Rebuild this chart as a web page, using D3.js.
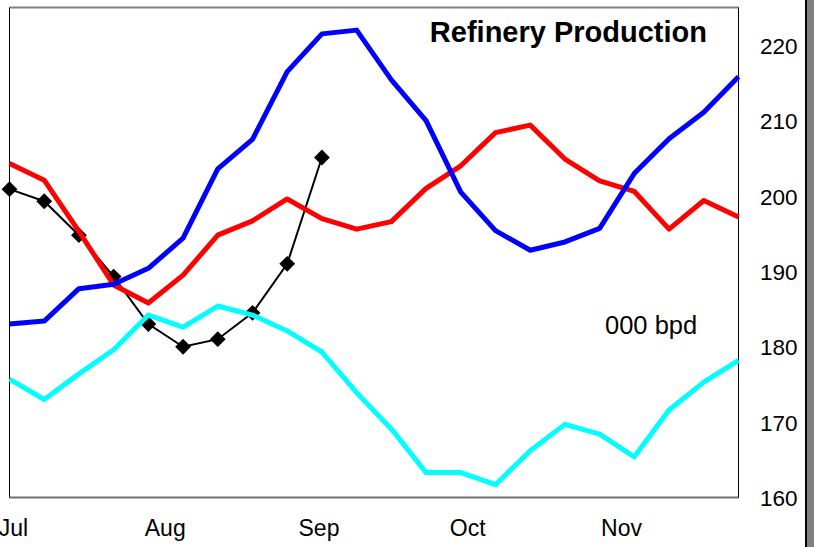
<!DOCTYPE html>
<html>
<head>
<meta charset="utf-8">
<script src="https://cdn.jsdelivr.net/npm/d3@7"></script>
<style>
  html, body { margin: 0; padding: 0; background: #fff; }
  svg { display: block; font-family: "Liberation Sans", Arial, sans-serif; }
</style>
</head>
<body>
<svg id="chart" width="814" height="547"></svg>
<script>
// Weekly observation dates
const weeks = [
  "2003-07-01","2003-07-08","2003-07-15","2003-07-22","2003-07-29",
  "2003-08-05","2003-08-12","2003-08-19","2003-08-26",
  "2003-09-02","2003-09-09","2003-09-16","2003-09-23","2003-09-30",
  "2003-10-07","2003-10-14","2003-10-21","2003-10-28",
  "2003-11-04","2003-11-11","2003-11-18","2003-11-25"
];

// Refinery production, thousand barrels per day
const seriesBlue = [183.0, 183.4, 187.7, 188.3, 190.4, 194.4, 203.6, 207.5, 216.5, 221.5, 222.0,
                    215.4, 210.0, 200.5, 195.4, 192.8, 193.9, 195.7, 203.0, 207.6, 211.1, 215.8];
const seriesRed  = [204.3, 202.1, 195.3, 188.2, 185.8, 189.5, 194.8, 196.7, 199.6, 197.0, 195.6,
                    196.6, 201.0, 204.0, 208.4, 209.4, 204.9, 202.0, 200.6, 195.6, 199.4, 197.2];
const seriesCyan = [175.7, 173.0, 176.4, 179.6, 184.2, 182.6, 185.4, 184.2, 182.1, 179.3, 173.9,
                    169.1, 163.3, 163.3, 161.7, 166.2, 169.7, 168.4, 165.4, 171.6, 175.3, 178.2];
const seriesCurrent = [200.9, 199.3, 194.8, 189.3, 183.0, 180.0, 181.0, 184.5, 191.0, 205.1];

// Axis ticks
const monthTicks = ["2003-07-01","2003-08-01","2003-09-01","2003-10-01","2003-11-01"];
const monthLabels = ["Jul","Aug","Sep","Oct","Nov"];
const yTicks = [160, 170, 180, 190, 200, 210, 220];

const parse = d3.utcParse("%Y-%m-%d");
const dates = weeks.map(parse);

const plot = { left: 9.5, right: 738.5, top: 7.5, bottom: 497.5 };

const x = d3.scaleUtc()
  .domain([dates[0], dates[dates.length - 1]])
  .range([plot.left, plot.right]);
const y = d3.scaleLinear()
  .domain([160, 225])
  .range([plot.bottom, plot.top]);

const svg = d3.select("#chart");
svg.append("rect").attr("width", 814).attr("height", 547).attr("fill", "#fff");

// Outer right border
svg.append("rect").attr("x", 805).attr("y", 0).attr("width", 2).attr("height", 547).attr("fill", "#000");
svg.append("rect").attr("x", 807).attr("y", 0).attr("width", 7).attr("height", 547).attr("fill", "#808080");

// Plot frame
svg.append("rect")
  .attr("x", plot.left).attr("y", plot.top)
  .attr("width", plot.right - plot.left).attr("height", plot.bottom - plot.top)
  .attr("fill", "none").attr("stroke", "#000").attr("stroke-width", 1);
svg.append("line")
  .attr("x1", plot.left).attr("x2", plot.right).attr("y1", plot.top).attr("y2", plot.top)
  .attr("stroke", "#808080").attr("stroke-width", 2);
svg.append("line")
  .attr("x1", plot.left).attr("x2", plot.right).attr("y1", plot.bottom).attr("y2", plot.bottom)
  .attr("stroke", "#6e6e6e").attr("stroke-width", 2);

// Right value axis (labels only)
const yAxis = d3.axisRight(y).tickValues(yTicks).tickSize(0).tickPadding(0).tickFormat(d3.format("d"));
const gy = svg.append("g").attr("transform", "translate(760,0)").call(yAxis);
gy.select(".domain").remove();
gy.selectAll("text").attr("font-size", 22.5).attr("fill", "#000")
  .attr("font-family", "'Liberation Sans', Arial, sans-serif").attr("dy", "0.36em");

// Bottom month axis (labels only)
const tickDates = monthTicks.map(parse);
const xAxis = d3.axisBottom(x).tickValues(tickDates).tickSize(0).tickPadding(0)
  .tickFormat((d, i) => monthLabels[i]);
const gx = svg.append("g").attr("transform", "translate(1.5,536)").call(xAxis);
gx.select(".domain").remove();
gx.selectAll("text").attr("font-size", 23).attr("fill", "#000")
  .attr("font-family", "'Liberation Sans', Arial, sans-serif").attr("dy", 0).attr("y", 0)
  .attr("dx", (d, i) => i === 0 ? 2 : 0);

const line = d3.line().x((d, i) => x(dates[i])).y(d => y(d));

// Current season: thin black line with diamond markers
svg.append("path").datum(seriesCurrent)
  .attr("d", line).attr("fill", "none").attr("stroke", "#000").attr("stroke-width", 2);
svg.append("g").selectAll("path").data(seriesCurrent).join("path")
  .attr("d", d3.symbol().type(d3.symbolSquare).size(125))
  .attr("transform", (d, i) => `translate(${x(dates[i])},${y(d)}) rotate(45)`)
  .attr("fill", "#000");

// Comparison series
const colored = [
  { values: seriesCyan, color: "#00ffff" },
  { values: seriesRed,  color: "#ff0000" },
  { values: seriesBlue, color: "#0000ff" }
];
colored.forEach(s => {
  svg.append("path").datum(s.values)
    .attr("d", line).attr("fill", "none")
    .attr("stroke", s.color).attr("stroke-width", 5)
    .attr("stroke-linejoin", "round");
});

// Title and unit
svg.append("text")
  .attr("x", 707).attr("y", 41.5).attr("text-anchor", "end")
  .attr("font-size", 29).attr("font-weight", "bold").attr("fill", "#000")
  .text("Refinery Production");
svg.append("text")
  .attr("x", 605).attr("y", 334)
  .attr("font-size", 25.5).attr("fill", "#000")
  .text("000 bpd");
</script>
</body>
</html>
